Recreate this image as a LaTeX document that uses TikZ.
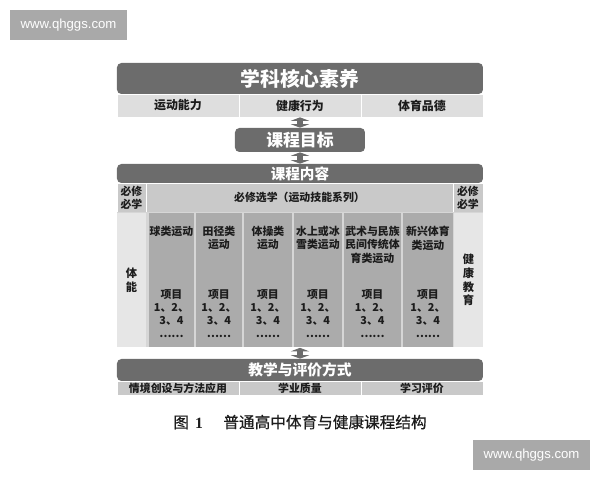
\documentclass[tikz,border=0pt]{standalone}
\usepackage{fontspec}
\setmainfont{Noto Sans CJK SC}
\newfontfamily\wmfont{Liberation Sans}
\newfontfamily\capfont[FakeBold=0.6]{Noto Sans CJK SC}
\newfontfamily\numfont{Liberation Serif}
\usetikzlibrary{positioning,arrows.meta}

\definecolor{bardark}{HTML}{6C6C6C}
\definecolor{rowlight}{HTML}{DEDEDE}
\definecolor{rowmid}{HTML}{C9C9C9}
\definecolor{sidelight}{HTML}{E6E6E6}
\definecolor{sportgray}{HTML}{ABABAB}
\definecolor{gapgray}{HTML}{D6D6D6}
\definecolor{wmgray}{HTML}{A9A9A9}
\definecolor{inkdark}{HTML}{1C1C1C}

\newcommand{\px}{0.02cm}

\tikzset{
  darkbar/.style={fill=bardark, rounded corners=2.5pt, text=white, inner sep=0pt, minimum width=366*\px},
  lightcell/.style={fill=rowlight, draw=white, line width=0.4pt, text=inkdark, inner sep=0pt, font=\bfseries\fontsize{6.8}{8}\selectfont},
  midcell/.style={fill=rowmid, draw=white, line width=0.4pt, text=inkdark, inner sep=0pt, align=center, font=\bfseries\fontsize{6.2}{7.4}\selectfont},
  sidecol/.style={fill=sidelight, inner sep=0pt, text=inkdark, align=center, minimum height=134*\px, font=\bfseries\fontsize{6.4}{7.7}\selectfont},
  sportcol/.style={fill=sportgray, inner sep=0pt, minimum height=134*\px},
  coltext/.style={anchor=north, inner sep=0pt, align=center, text=inkdark, font=\bfseries\fontsize{6.2}{7.5}\selectfont},
  wmark/.style={fill=wmgray, text=white, inner sep=0pt, minimum width=117*\px, minimum height=30*\px, font=\wmfont\fontsize{7.5}{9}\selectfont},
  dblarrow/.style={draw=bardark, line width=3.5pt, {Triangle[width=10.5pt,length=2pt]}-{Triangle[width=10.5pt,length=2pt]}}
}

\begin{document}
\begin{tikzpicture}[x=0.02cm, y=-0.02cm]
  \useasboundingbox (0,0) rectangle (600,480);
  % WATERMARKS
  \node[wmark] (wmtop) at (68.5,25) {www.qhggs.com};
  \node[wmark] (wmbottom) at (531.5,455) {www.qhggs.com};
  % CORE LITERACY
  \node[darkbar, minimum height=31*\px, font=\bfseries\fontsize{11.3}{13}\selectfont] (core) at (300,78.5) {学科核心素养};
  \node[lightcell, minimum width=122*\px, minimum height=23*\px] (ability) at (178,105.5) {运动能力};
  \node[lightcell, minimum width=122*\px, minimum height=23*\px] (behaviour) at (300,105.5) {健康行为};
  \node[lightcell, minimum width=122*\px, minimum height=23*\px] (virtue) at (422,105.5) {体育品德};
  % GOAL
  \node[darkbar, minimum width=130*\px, minimum height=24*\px, font=\bfseries\fontsize{9.6}{11}\selectfont] (goal) at (300,140) {课程目标};
  \draw[dblarrow] (behaviour.south) -- (goal.north);
  % CONTENT
  \node[darkbar, minimum height=19*\px, font=\bfseries\fontsize{8.3}{10}\selectfont] (content) at (300,173.5) {课程内容};
  \draw[dblarrow] (goal.south) -- (content.north);
  \node[midcell, minimum width=29*\px, minimum height=29*\px] (reqleft) at (131.5,197.5) {必修\\必学};
  \node[midcell, minimum width=307*\px, minimum height=29*\px] (elective) at (299.5,197.5) {必修选学（运动技能系列）};
  \node[midcell, minimum width=30*\px, minimum height=29*\px] (reqright) at (468,197.5) {必修\\必学};
  \node[fill=gapgray, inner sep=0pt, minimum width=366*\px, minimum height=135*\px] (body) at (300,280) {};
  \node[sidecol, minimum width=29*\px] (fitness) at (131.5,280) {体\\能};
  \node[sidecol, minimum width=29*\px] (healthedu) at (468.5,280) {健\\康\\教\\育};
  % SPORT COLUMNS
  \node[sportcol, minimum width=45*\px] (ball) at (171.5,280) {};
  \node[sportcol, minimum width=46*\px] (track) at (219,280) {};
  \node[sportcol, minimum width=48*\px] (gym) at (268,280) {};
  \node[sportcol, minimum width=48*\px] (water) at (318,280) {};
  \node[sportcol, minimum width=57*\px] (wushu) at (372.5,280) {};
  \node[sportcol, minimum width=50*\px] (newsport) at (428,280) {};
  \node[coltext] (ballhead) at (171.5,226) {球类运动};
  \node[coltext] (trackhead) at (219,226) {田径类\\运动};
  \node[coltext] (gymhead) at (268,226) {体操类\\运动};
  \node[coltext] (waterhead) at (318,226) {水上或冰\\雪类运动};
  \node[coltext] (wushuhead) at (372.5,226) {武术与民族\\民间传统体\\育类运动};
  \node[coltext] (newsporthead) at (428,226) {新兴体育\\类运动};
  \node[coltext] (ballitem) at (171.5,289) {项目\\1、2、\\3、4\\……};
  \node[coltext] (trackitem) at (219,289) {项目\\1、2、\\3、4\\……};
  \node[coltext] (gymitem) at (268,289) {项目\\1、2、\\3、4\\……};
  \node[coltext] (wateritem) at (318,289) {项目\\1、2、\\3、4\\……};
  \node[coltext] (wushuitem) at (372.5,289) {项目\\1、2、\\3、4\\……};
  \node[coltext] (newsportitem) at (428,289) {项目\\1、2、\\3、4\\……};
  % TEACHING AND EVALUATION
  \node[darkbar, minimum height=22*\px, font=\bfseries\fontsize{8.4}{10}\selectfont] (teach) at (300,370) {教学与评价方式};
  \draw[dblarrow] (body.south) -- (teach.north);
  \node[midcell, minimum width=122*\px, minimum height=14*\px] (method) at (178,388) {情境创设与方法应用};
  \node[midcell, minimum width=122*\px, minimum height=14*\px] (quality) at (300,388) {学业质量};
  \node[midcell, minimum width=122*\px, minimum height=14*\px] (assess) at (422,388) {学习评价};
  % CAPTION
  \node[text=inkdark, font=\capfont\fontsize{8.9}{11}\selectfont] (caption) at (300,422) {图\hspace{0.4em}{\numfont\bfseries 1}\hspace{1.3em}普通高中体育与健康课程结构};
\end{tikzpicture}
\end{document}
